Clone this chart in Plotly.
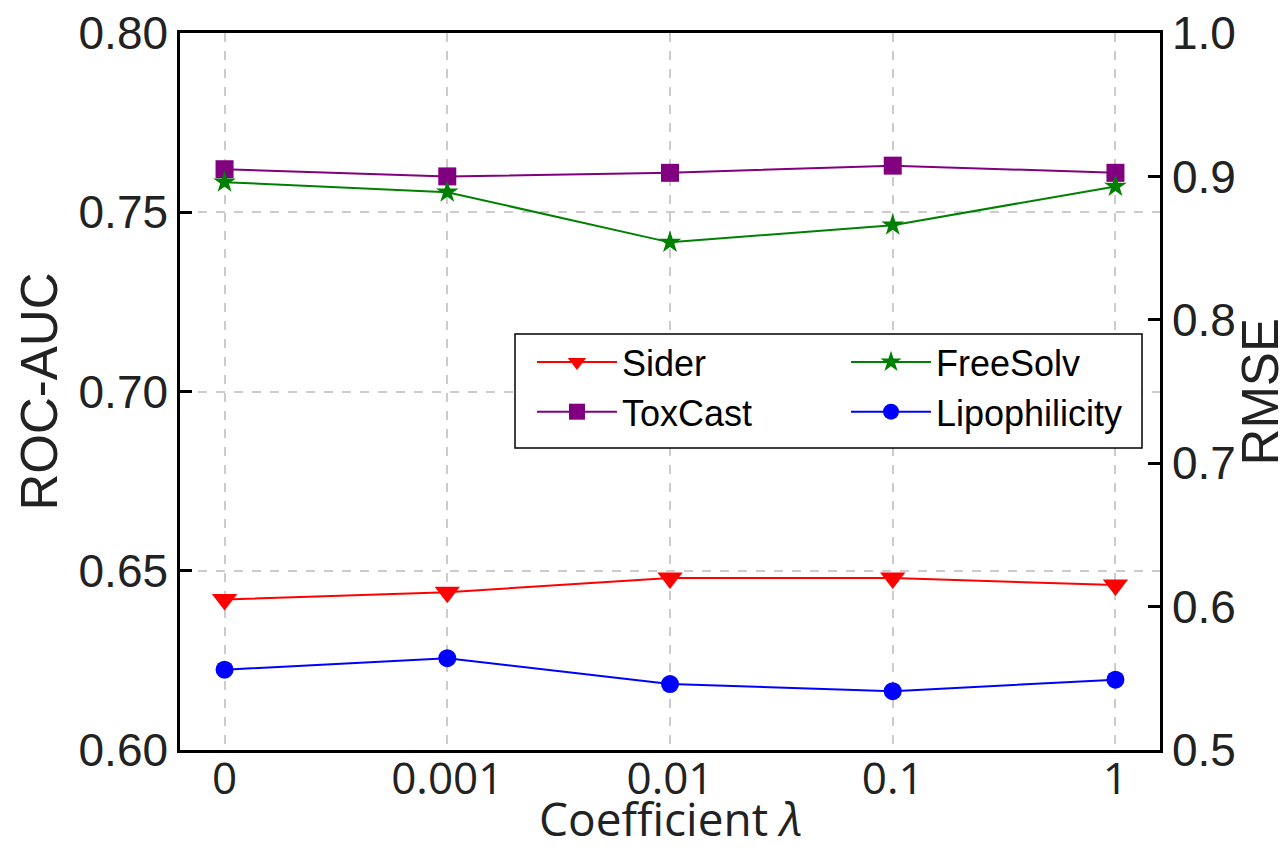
import plotly.graph_objects as go

categories = ["0", "0.001", "0.01", "0.1", "1"]
sider = [0.642, 0.644, 0.648, 0.648, 0.646]
toxcast = [0.762, 0.760, 0.761, 0.763, 0.761]
freesolv = [0.896, 0.889, 0.854, 0.866, 0.893]
lipophilicity = [0.556, 0.564, 0.546, 0.541, 0.549]

left_ticks = [0.60, 0.65, 0.70, 0.75, 0.80]
right_ticks = [0.5, 0.6, 0.7, 0.8, 0.9, 1.0]

fig = go.Figure()
fig.add_trace(go.Scatter(x=categories, y=sider, name="Sider", mode="lines+markers",
                         line=dict(color="#ff0000", width=2),
                         marker=dict(symbol="triangle-down", size=22, color="#ff0000"),
                         legend="legend", yaxis="y"))
fig.add_trace(go.Scatter(x=categories, y=toxcast, name="ToxCast", mode="lines+markers",
                         line=dict(color="#800080", width=2),
                         marker=dict(symbol="square", size=18, color="#800080"),
                         legend="legend", yaxis="y"))
fig.add_trace(go.Scatter(x=categories, y=freesolv, name="FreeSolv", mode="lines+markers",
                         line=dict(color="#008000", width=2),
                         marker=dict(symbol="star", size=17, color="#008000"),
                         legend="legend2", yaxis="y2"))
fig.add_trace(go.Scatter(x=categories, y=lipophilicity, name="Lipophilicity", mode="lines+markers",
                         line=dict(color="#0000ff", width=2),
                         marker=dict(symbol="circle", size=18, color="#0000ff"),
                         legend="legend2", yaxis="y2"))

legend_style = dict(yanchor="top", xanchor="left", orientation="v",
                    bgcolor="rgba(0,0,0,0)", borderwidth=0,
                    font=dict(size=36, color="black"), itemwidth=80,
                    traceorder="normal", tracegroupgap=0)

fig.update_layout(
    width=1288, height=851,
    margin=dict(l=180, r=128, t=33, b=101, autoexpand=False),
    plot_bgcolor="white", paper_bgcolor="white",
    font=dict(family="Liberation Sans, Arial, sans-serif", color="#222222"),
    xaxis=dict(type="category", range=[-0.2, 4.2], automargin=False,
               showgrid=True, gridcolor="#cccccc", griddash="dash", gridwidth=1.5,
               showline=True, linecolor="black", linewidth=2.5, mirror=True,
               ticks="", ticklen=0, ticklabelstandoff=-12,
               tickfont=dict(family="Open Sans, sans-serif", size=44, color="#222222")),
    yaxis=dict(range=[0.60, 0.80], tickvals=left_ticks, tickformat=".2f", automargin=False,
               showgrid=True, gridcolor="#cccccc", griddash="dash", gridwidth=1.5,
               showline=True, linecolor="black", linewidth=2.5, mirror=True,
               ticks="inside", ticklen=12, tickwidth=2.5, tickcolor="black",
               tickfont=dict(size=46), zeroline=False),
    yaxis2=dict(range=[0.5, 1.0], tickvals=right_ticks, tickformat=".1f", automargin=False,
                overlaying="y", side="right", showgrid=False,
                showline=True, linecolor="black", linewidth=2.5,
                ticks="inside", ticklen=12, tickwidth=2.5, tickcolor="black",
                tickfont=dict(size=46), zeroline=False),
    legend=dict(x=(532 - 180) / 980, y=(750 - 332) / 717, **legend_style),
    legend2=dict(x=(846 - 180) / 980, y=(750 - 332) / 717, **legend_style),
    showlegend=True,
    shapes=[
        dict(type="rect", xref="paper", yref="paper",
             x0=(515 - 180) / 980, x1=(1142 - 180) / 980,
             y0=(750 - 448) / 717, y1=(750 - 334) / 717,
             fillcolor="white", line=dict(color="black", width=1.5), layer="above"),
    ],
    annotations=[
        dict(text="Coefficient <i>λ</i>", xref="paper", yref="paper", x=0.5, y=(750 - 850) / 717,
             xanchor="center", yanchor="bottom", showarrow=False, borderpad=0,
             font=dict(family="Open Sans, sans-serif", size=46, color="#222222")),
        dict(text="ROC-AUC", xref="paper", yref="paper", x=-0.1429, y=0.5, textangle=-90,
             xanchor="center", yanchor="middle", showarrow=False,
             font=dict(size=51, color="#222222")),
        dict(text="RMSE", xref="paper", yref="paper", x=1.103, y=0.5, textangle=-90,
             xanchor="center", yanchor="middle", showarrow=False,
             font=dict(size=51, color="#222222")),
    ],
)

fig.write_html("out.html", config={"displayModeBar": False},
               post_script="document.body.style.margin='0';document.body.style.padding='0';")
